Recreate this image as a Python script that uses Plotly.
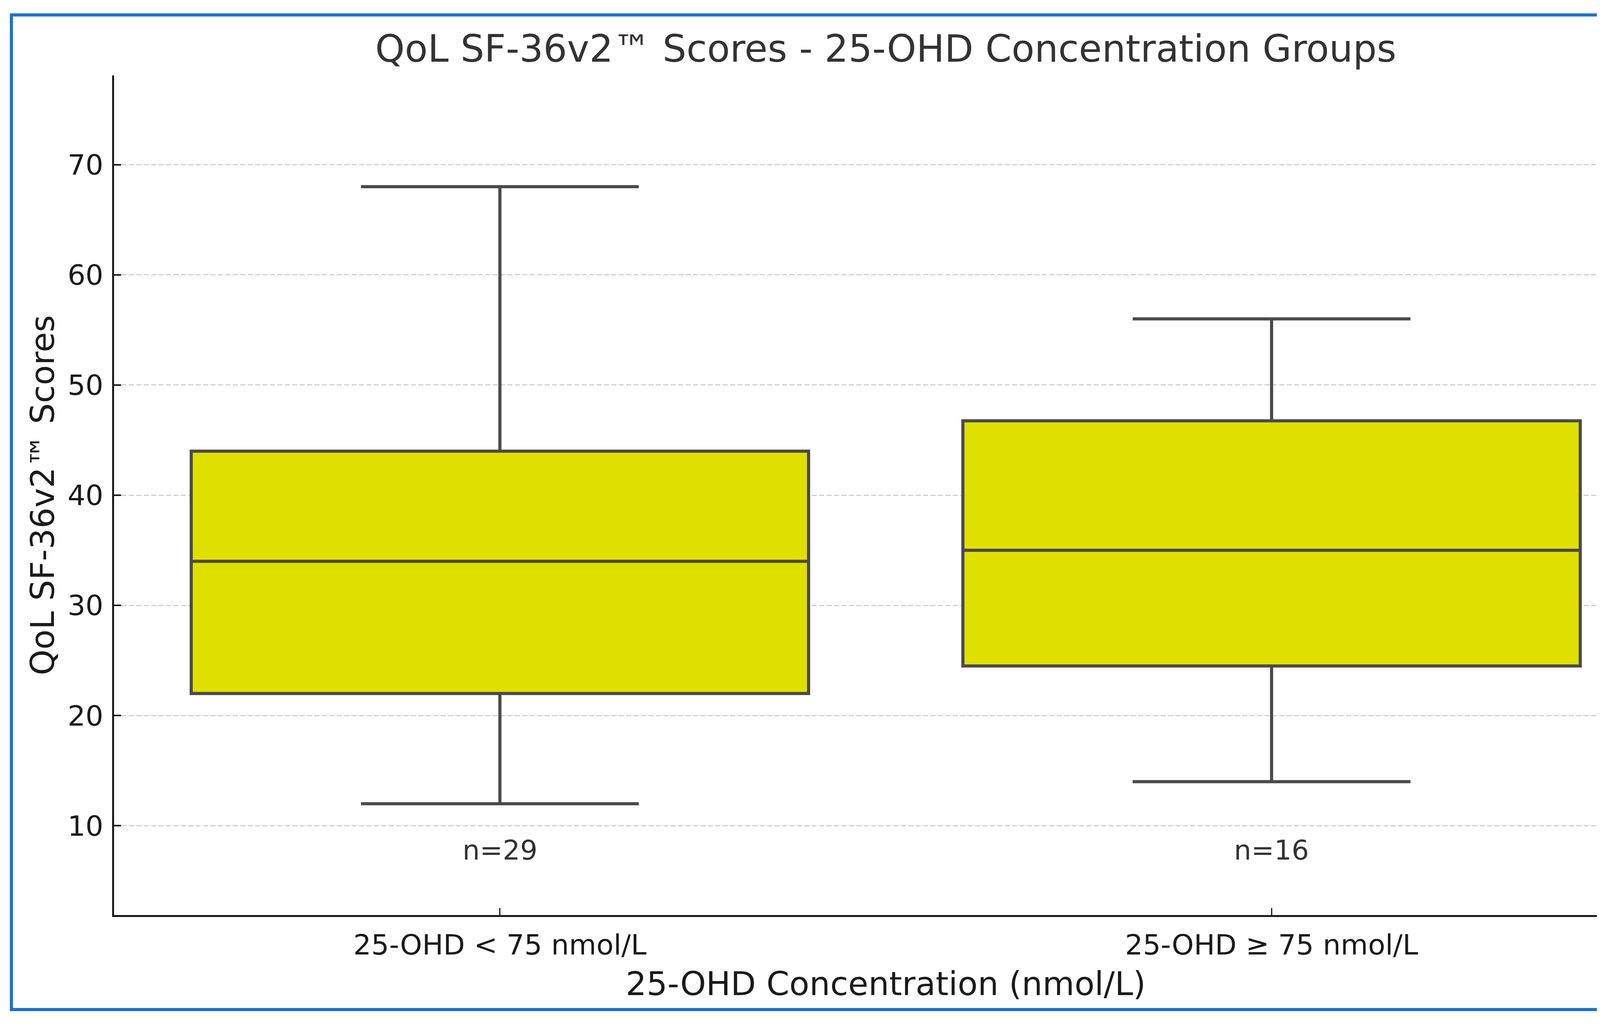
import plotly.graph_objects as go

# ---- data ----
categories = ["25-OHD < 75 nmol/L", "25-OHD ≥ 75 nmol/L"]
positions = [0, 1]
lower_whisker = [12, 14]
q1_values = [22, 24.5]
medians = [34, 35]
q3_values = [44, 46.75]
upper_whisker = [68, 56]
n_counts = [29, 16]
y_ticks = [10, 20, 30, 40, 50, 60, 70]

# page is offset 8px by the default body margin; compensate
OFF = 8
W, H = 4317 - 2 * OFF, 2622 - 2 * OFF
FONT = "DejaVu Sans"

fig = go.Figure()
for i, cat in enumerate(categories):
    fig.add_trace(go.Box(
        x=[positions[i]],
        q1=[q1_values[i]], median=[medians[i]], q3=[q3_values[i]],
        lowerfence=[lower_whisker[i]], upperfence=[upper_whisker[i]],
        name=cat,
        width=0.8,
        whiskerwidth=0.45,
        fillcolor="#e0e000",
        line=dict(color="#4a4a4a", width=8),
        boxpoints=False,
        showlegend=False,
        hoverinfo="skip",
    ))

for i, n in enumerate(n_counts):
    fig.add_annotation(
        x=positions[i], y=7.8, xref="x", yref="y",
        text=f"n={n}", showarrow=False,
        font=dict(family=FONT, size=70, color="#333333"),
        xanchor="center", yanchor="middle",
    )

# outer blue frame
fig.add_shape(
    type="rect", xref="paper", yref="paper",
    x0=-0.0665, x1=1.0103, y0=-0.1125, y1=1.072,
    line=dict(color="#1874cd", width=8), fillcolor="rgba(0,0,0,0)",
    layer="above",
)

fig.update_layout(
    width=W, height=H,
    margin=dict(l=292 - OFF, r=74 - OFF, t=193 - OFF, b=279 - OFF, autoexpand=False),
    paper_bgcolor="white", plot_bgcolor="white",
    font=dict(family=FONT, color="#1a1a1a"),
    title=dict(
        text="QoL SF-36v2™ Scores - 25-OHD Concentration Groups",
        x=0.5, xref="paper", xanchor="center",
        y=1 - (124 - OFF) / H, yref="container", yanchor="middle",
        font=dict(family=FONT, size=96, color="#333333"),
    ),
    xaxis=dict(
        range=[-0.5, 1.5],
        tickmode="array", tickvals=positions, ticktext=categories,
        tickfont=dict(family=FONT, size=72, color="#1a1a1a"),
        ticks="inside", ticklen=18, tickwidth=3, tickcolor="#1a1a1a",
        showline=True, linecolor="#1a1a1a", linewidth=5,
        showgrid=False, zeroline=False,
        ticklabelstandoff=10,
        title=dict(text="25-OHD Concentration (nmol/L)",
                   font=dict(family=FONT, size=84, color="#1a1a1a"),
                   standoff=30),
    ),
    yaxis=dict(
        range=[1.9, 78.1],
        tickmode="array", tickvals=y_ticks,
        tickfont=dict(family=FONT, size=72, color="#1a1a1a"),
        ticks="inside", ticklen=18, tickwidth=4, tickcolor="#1a1a1a",
        showline=True, linecolor="#1a1a1a", linewidth=5,
        showgrid=True, gridcolor="#d0d0d0", gridwidth=3, griddash="13px,6px",
        zeroline=False,
        ticklabelstandoff=8,
        title=dict(text="QoL SF-36v2™ Scores",
                   font=dict(family=FONT, size=84, color="#1a1a1a"),
                   standoff=8),
    ),
)

fig.write_html("out.html")
